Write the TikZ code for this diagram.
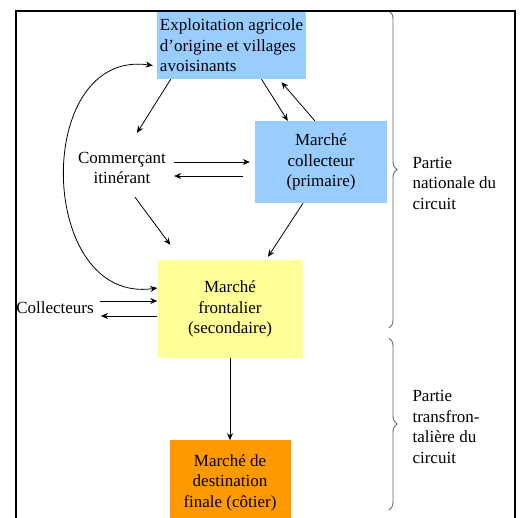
\documentclass[tikz,border=0pt]{standalone}
\usepackage{fontspec}
\setmainfont{Liberation Serif}
\usetikzlibrary{arrows.meta,decorations.pathreplacing,positioning}
\definecolor{bleuclair}{RGB}{153,204,255}
\definecolor{jaunepale}{RGB}{255,255,153}
\definecolor{orangevif}{RGB}{255,153,0}

\begin{document}
\begin{tikzpicture}[x=1pt,y=-1pt,
    every node/.style={font=\fontsize{17}{20.5}\selectfont},
    marche/.style={rectangle,align=center,inner sep=3pt},
    fleche/.style={-{Stealth[length=7pt,width=6pt]},line width=0.8pt},
    accolade/.style={decorate,decoration={brace,amplitude=8pt},gray!80!black,line width=0.9pt}]
   \useasboundingbox (0,0) rectangle (526,517);
   \clip (0,0) rectangle (526,517);
   % les marches
   \node[marche,fill=bleuclair,minimum width=147pt,minimum height=67pt,align=left] (expl) at (231.5,45.5)
      {Exploitation agricole\\d'origine et villages\\avoisinants};
   \node[marche,fill=bleuclair,minimum width=132pt,minimum height=82pt] (coll) at (321,162)
      {Marché\\collecteur\\(primaire)};
   \node[marche] (comm) at (122,168) {Commerçant\\itinérant};
   \node[marche,fill=jaunepale,minimum width=145pt,minimum height=98pt] (front) at (230,309)
      {Marché\\frontalier\\(secondaire)};
   \node[marche,fill=orangevif,minimum width=121pt,minimum height=84pt] (dest) [below=82pt of front]
      {Marché de\\destination\\finale (côtier)};
   \node[marche] (colr) at (55,308) {Collecteurs};
   % les flux
   \draw[fleche] ([xshift=14pt]expl.south west) -- ([xshift=15pt,yshift=16pt]comm.north);
   \draw[fleche] ([xshift=30pt]expl.south) -- ([xshift=33pt]coll.north west);
   \draw[fleche] ([xshift=60pt]coll.north west) -- ([xshift=50pt,yshift=-3pt]expl.south);
   \draw[fleche] ([xshift=5pt,yshift=6pt]comm.east) -- ([xshift=-5pt]coll.west);
   \draw[fleche] ([xshift=-12pt,yshift=-14pt]coll.west) -- ([xshift=5pt,yshift=-8pt]comm.east);
   \draw[fleche] ([xshift=13pt,yshift=-10pt]comm.south) -- ([xshift=13pt,yshift=15pt]front.north west);
   \draw[fleche] ([xshift=-18pt]coll.south) -- ([xshift=38pt,yshift=3pt]front.north);
   \draw[fleche,{Stealth[length=7pt,width=6pt]}-{Stealth[length=7pt,width=6pt]}]
      ([xshift=-4pt,yshift=-20pt]expl.west) to[out=172,in=188,looseness=1.4] ([yshift=21pt]front.west);
   \draw[fleche] ([xshift=3pt,yshift=7pt]colr.east) -- ([yshift=8pt]front.west);
   \draw[fleche] ([yshift=-7pt]front.west) -- ([xshift=4pt,yshift=-8pt]colr.east);
   \draw[fleche] (front.south) -- (dest.north);
   % les deux parties
   \draw[accolade] (389,11) -- (389,328);
   \draw[accolade] (389,338) -- (389,510);
   \node[anchor=west,align=left] (nat) at (409,183) {Partie\\nationale du\\circuit};
   \node[anchor=west,align=left] (trans) at (409,427) {Partie\\transfron-\\talière du\\circuit};
   \draw[line width=1.2pt] (16,11) rectangle (515,540);
\end{tikzpicture}
\end{document}
